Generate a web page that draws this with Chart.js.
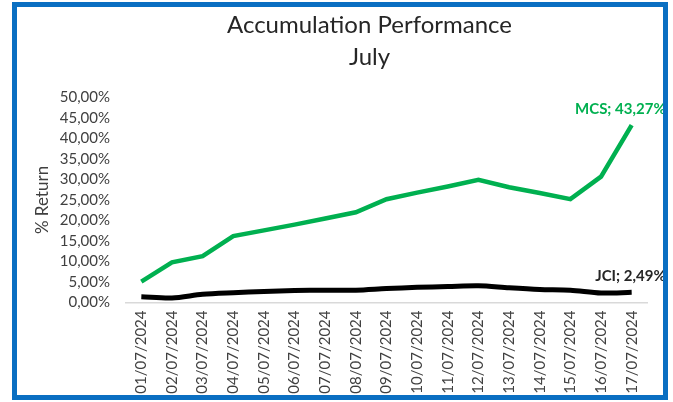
<!DOCTYPE html>
<html>
<head>
<meta charset="utf-8">
<script src="https://cdn.jsdelivr.net/npm/chart.js@4.4.1/dist/chart.umd.min.js"></script>
<style>
  html, body { margin: 0; padding: 0; background: #ffffff; }
  #frame {
    position: absolute; left: 12px; top: 2px;
    width: 646px; height: 388px;
    border: 5px solid #0a6fc2;
    overflow: hidden; background: #ffffff;
  }
  #wrap { position: absolute; left: 3px; top: 0; width: 699px; height: 388px; }
</style>
</head>
<body>
<div id="frame"><div id="wrap"><canvas id="accChart"></canvas></div></div>
<script>
// Chart data
var dates = ["01/07/2024", "02/07/2024", "03/07/2024", "04/07/2024", "05/07/2024", "06/07/2024",
             "07/07/2024", "08/07/2024", "09/07/2024", "10/07/2024", "11/07/2024", "12/07/2024",
             "13/07/2024", "14/07/2024", "15/07/2024", "16/07/2024", "17/07/2024"];
var mcsReturn = [5.1, 9.8, 11.3, 16.2, 17.6, 19.0, 20.5, 22.0, 25.2, 26.8, 28.3, 29.9, 28.1, 26.7, 25.2, 30.7, 43.27];
var jciReturn = [1.4, 1.1, 2.0, 2.4, 2.7, 2.9, 3.0, 3.0, 3.4, 3.7, 3.9, 4.1, 3.6, 3.2, 3.0, 2.3, 2.49];
var yTicks = [0, 5, 10, 15, 20, 25, 30, 35, 40, 45, 50];
var titleLines = ["Accumulation Performance", "July"];

function pct(v) {
    return v.toFixed(2).replace(".", ",") + "%";
}

// two line title, centred a bit left of the plot like the excel one
var chartTitle = {
    id: "chartTitle",
    afterDraw: function (chart) {
        var ctx = chart.ctx;
        ctx.save();
        ctx.font = "24px Lato";
        ctx.fillStyle = "#262626";
        ctx.textAlign = "center";
        ctx.textBaseline = "middle";
        titleLines.forEach(function (t, i) {
            ctx.fillText(t, 349.5, 18 + i * 32);
        });
        ctx.restore();
    }
};

// label at the last point of each line
var lastLabels = {
    id: "lastLabels",
    afterDatasetsDraw: function (chart) {
        var ctx = chart.ctx;
        ctx.save();
        ctx.font = "bold 15px Lato";
        ctx.textAlign = "right";
        ctx.textBaseline = "middle";
        chart.data.datasets.forEach(function (ds, i) {
            var meta = chart.getDatasetMeta(i);
            var pt = meta.data[meta.data.length - 1];
            var val = ds.data[ds.data.length - 1];
            ctx.fillStyle = ds.labelColor;
            ctx.fillText(ds.label + "; " + pct(val), pt.x + 34, pt.y - 16);
        });
        ctx.restore();
    }
};

var ctx = document.getElementById("accChart");

var chartData = {
    labels: dates,
    datasets: [{
        label: "MCS",
        data: mcsReturn,
        borderColor: "#00b050",
        labelColor: "#00b050",
        borderWidth: 4.5,
        pointRadius: 0,
        tension: 0,
        fill: false
    }, {
        label: "JCI",
        data: jciReturn,
        borderColor: "#000000",
        labelColor: "#262626",
        borderWidth: 5,
        pointRadius: 0,
        tension: 0.3,
        fill: false
    }]
};

var chartOptions = {
    responsive: true,
    maintainAspectRatio: false,
    animation: false,
    layout: { padding: { left: 0, right: 72, top: 90.5, bottom: 0 } },
    plugins: {
        legend: { display: false },
        tooltip: { enabled: false },
        title: { display: false }
    },
    scales: {
        x: {
            offset: true,
            grid: { display: false, drawTicks: false, offset: true },
            border: { display: true, color: "#d9d9d9", width: 1.5 },
            ticks: {
                color: "#404040",
                font: { family: "Lato", size: 15 },
                minRotation: 90,
                maxRotation: 90,
                autoSkip: false,
                padding: 8
            },
            afterFit: function (scale) { scale.height = 92.5; }
        },
        y: {
            min: 0,
            max: 50,
            afterBuildTicks: function (scale) {
                scale.ticks = yTicks.map(function (v) { return { value: v }; });
            },
            grid: { display: false, drawTicks: false },
            border: { display: false },
            ticks: {
                color: "#404040",
                font: { family: "Lato", size: 15 },
                padding: 16,
                autoSkip: false,
                callback: function (v) { return pct(v); }
            },
            title: {
                display: true,
                text: "% Return",
                color: "#404040",
                font: { family: "Lato", size: 17 },
                padding: { top: 12, bottom: 0 }
            },
            afterFit: function (scale) { scale.width = 106; }
        }
    }
};

var accChart = new Chart(ctx, {
    type: "line",
    data: chartData,
    options: chartOptions,
    plugins: [chartTitle, lastLabels]
});
</script>
</body>
</html>
